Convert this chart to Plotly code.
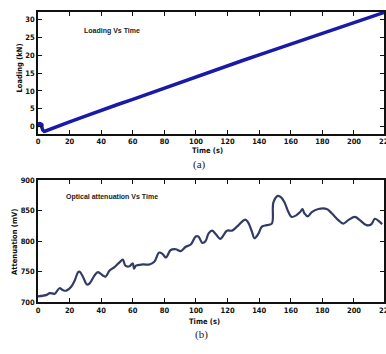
import plotly.graph_objects as go

# ---- data ----
load_time = [0, 1, 2, 3, 4, 10, 20, 30, 40, 50, 60, 70, 80, 90, 100, 110, 120, 130,
             140, 150, 160, 170, 180, 190, 200, 210, 219]
load_kn = [0.5, 0.6, 0.4, -1.0, -1.4, -0.3, 1.3, 2.9, 4.6, 6.1, 7.6, 9.2, 10.8, 12.4, 14.0,
           15.5, 17.0, 18.6, 20.1, 21.6, 23.2, 24.7, 26.2, 27.8, 29.3, 30.8, 32.0]

att_time = [0, 5.5, 7.5, 10.6, 13.6, 15.7, 18, 21, 23.3, 25.4, 26.4, 28.5, 31, 32.7, 35.8,
            37.9, 41, 42.8, 45.3, 48.4, 51.6, 53.7, 55.3, 57.9, 60, 60.8, 62, 66.3, 70.5,
            73.6, 76.7, 78.9, 81, 84, 87.2, 90.4, 93.5, 96.7, 99.8, 101.5, 104, 106, 108,
            110.2, 112.3, 115.4, 116.9, 119.6, 122.8, 125.9, 129, 131.2, 132.8, 135.4, 137,
            139.6, 141.7, 144.8, 148, 149, 151.8, 153.9, 156, 158.5, 160.6, 163.4, 165.9,
            167.4, 168.6, 170.7, 173.3, 177.5, 182.7, 185.9, 190.1, 193.2, 196.4, 200.6,
            203.7, 207.9, 211, 213.2, 216.3, 217.8]
att_mv = [709.6, 712, 715, 714, 723, 720, 719, 725.5, 736, 749.5, 750, 741.5, 729, 731, 744,
          749.5, 744, 742, 752, 757.5, 765.5, 770, 760, 759, 764, 755, 760, 762, 762,
          766.5, 781.5, 779, 773.5, 785.7, 787, 784, 791, 794.7, 808, 808, 797.4, 800, 813,
          817.5, 812.5, 804, 808, 817.5, 817.5, 824, 832, 835.7, 832, 816, 805,
          813, 824, 826.6, 829, 864, 874.6, 872, 864, 848, 840, 842.6, 848,
          853, 846, 841, 848, 853, 853, 846, 834.7, 829, 834.7, 840,
          834.7, 826.6, 828, 837, 832, 828]

x_ticks = [0, 20, 40, 60, 80, 100, 120, 140, 160, 180, 200]
load_ticks = [0, 5, 10, 15, 20, 25, 30]
att_ticks = [700, 750, 800, 850, 900]

W, H = 386, 354
ML = 38
def py(px):
    return 1 - px / H
def px_(x):
    return (x - ML) / (W - ML)

NARROW = "DejaVu Sans Condensed, Liberation Sans Narrow, Arial Narrow, sans-serif"
tickfont = dict(family=NARROW, size=7.5, color="#111", weight="bold")

fig = go.Figure()
fig.add_trace(go.Scatter(x=load_time, y=load_kn, mode="lines", xaxis="x", yaxis="y",
                         line=dict(color="#1a1aa8", width=3.5), showlegend=False))
fig.add_trace(go.Scatter(x=load_time[:3], y=load_kn[:3], mode="markers", xaxis="x", yaxis="y",
                         marker=dict(color="#1a1aa8", size=5), showlegend=False))
fig.add_trace(go.Scatter(x=att_time, y=att_mv, mode="lines", xaxis="x2", yaxis="y2",
                         line=dict(color="#323a66", width=2.2, shape="spline"),
                         showlegend=False))

axcommon = dict(showgrid=False, zeroline=False, showline=True, linecolor="#111",
                linewidth=1.5, mirror="ticks", ticks="inside", ticklen=4,
                tickcolor="#111", tickwidth=1.2, tickfont=tickfont)

fig.update_layout(
    width=W, height=H, margin=dict(l=ML, r=0, t=0, b=0),
    paper_bgcolor="white", plot_bgcolor="white",
    xaxis=dict(domain=[0, 1], range=[0, 219], tickvals=x_ticks, anchor="y", **axcommon),
    yaxis=dict(domain=[py(133), py(8)], range=[-2, 32.2], tickvals=load_ticks,
               anchor="x", **axcommon),
    xaxis2=dict(domain=[0, 1], range=[0, 219], tickvals=x_ticks, anchor="y2", **axcommon),
    yaxis2=dict(domain=[py(306), py(181)], range=[700, 900], tickvals=att_ticks,
                anchor="x2", **axcommon),
)

lab = dict(family=NARROW, size=7.5, color="#111", weight="bold")
small = dict(family="Liberation Sans, Arial, sans-serif", size=7, color="#222", weight="bold")
serif = dict(family="Liberation Serif, Times New Roman, serif", size=11, color="#222")

ann = [
    dict(text="Loading Vs Time", x=px_(82), y=py(28), xanchor="left", yanchor="middle",
         font=small),
    dict(text="Optical attenuation Vs Time", x=px_(64), y=py(198), xanchor="left",
         yanchor="middle", font=small),
    dict(text="Time (s)", x=px_(208), y=py(150), xanchor="center", yanchor="middle", font=lab),
    dict(text="Time (s)", x=px_(205), y=py(326), xanchor="center", yanchor="middle", font=lab),
    dict(text="(a)", x=px_(200), y=py(165), xanchor="center", yanchor="middle", font=serif),
    dict(text="(b)", x=px_(202), y=py(339), xanchor="center", yanchor="middle", font=serif),
    dict(text="Loading (kN)", x=px_(19), y=py(66), xanchor="center", yanchor="middle",
         textangle=-90, font=lab),
    dict(text="Attenuation (mV)", x=px_(15), y=py(244), xanchor="center", yanchor="middle",
         textangle=-90, font=lab),
    dict(text="220", x=px_(ML + 220 * (W - ML) / 219), y=py(141), xanchor="center",
         yanchor="middle", font=tickfont),
    dict(text="220", x=px_(ML + 220 * (W - ML) / 219), y=py(315), xanchor="center",
         yanchor="middle", font=tickfont),
]
for a in ann:
    a["xref"] = "paper"
    a["yref"] = "paper"
    a["showarrow"] = False
fig.update_layout(annotations=ann)

fig.write_html("out.html", config={"displayModeBar": False},
               post_script="document.body.style.margin='0';document.body.style.overflow='hidden';")
